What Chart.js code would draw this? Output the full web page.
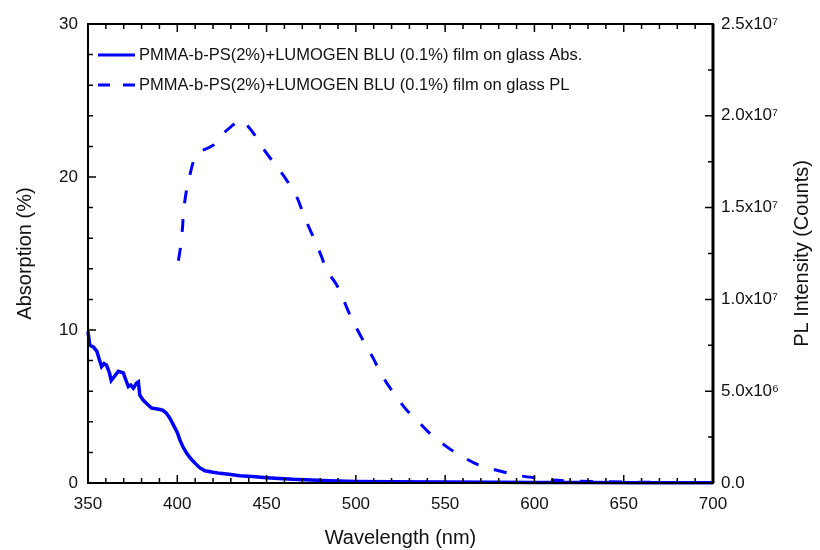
<!DOCTYPE html>
<html>
<head>
<meta charset="utf-8">
<script src="https://cdn.jsdelivr.net/npm/chart.js@4.4.1/dist/chart.umd.min.js"></script>
<style>
html, body { margin: 0; padding: 0; background: #fff; }
#wrap { width: 820px; height: 550px; }
</style>
</head>
<body>
<div id="wrap"><canvas id="myChart" width="820" height="550"></canvas></div>
<script>
// absorption spectrum (%)
const absWl = [350, 351, 353, 355, 356, 357.6, 359, 360.4, 362, 363, 365, 367, 369.8, 371, 372.6, 374, 375.4, 377, 378.2, 379,
  381, 382.8, 385.6, 388, 390.3, 392, 394, 396, 397.8, 400, 401.5, 403, 405.3, 407.5, 410, 412.5, 415.5, 420, 424, 430,
  435, 442, 450, 457, 465, 475, 485, 500, 520, 550, 580, 600, 630, 660, 700];
const absVal = [9.9, 9.0, 8.9, 8.6, 8.2, 7.6, 7.8, 7.7, 7.2, 6.7, 7.0, 7.3, 7.2, 6.8, 6.3, 6.4, 6.2, 6.5, 6.6, 5.75,
  5.4, 5.2, 4.9, 4.85, 4.8, 4.75, 4.55, 4.2, 3.8, 3.3, 2.8, 2.4, 1.94, 1.6, 1.29, 1.0, 0.8, 0.7, 0.63, 0.55,
  0.48, 0.42, 0.35, 0.3, 0.24, 0.2, 0.15, 0.1, 0.08, 0.06, 0.05, 0.04, 0.03, 0.02, 0.02];

// PL spectrum (counts)
const plWl = [400.6, 401.9, 403, 403.4, 404.9, 406.2, 409, 411.8, 416, 420.2, 424.9, 430, 435.1, 437, 439.8, 443, 446.3, 450,
  456.5, 461.2, 466.8, 469.7, 473.4, 477.1, 480.9, 483.6, 489.2, 493, 496.7, 500.4, 506, 509.7, 513.5, 518, 524.7, 528.4,
  535.9, 541.5, 550.8, 556.4, 566.7, 575, 584.4, 592.8, 603, 610, 625, 650, 675, 700];
const plVal = [12.1e6, 12.9e6, 14.0e6, 14.7e6, 15.8e6, 16.4e6, 17.5e6, 18.0e6, 18.2e6, 18.4e6, 18.95e6, 19.4e6, 19.77e6, 19.7e6,
  19.4e6, 19.0e6, 18.5e6, 17.96e6, 17.14e6, 16.5e6, 15.6e6, 14.9e6, 14.0e6, 13.2e6, 12.3e6, 11.6e6, 10.8e6, 10.0e6, 9.15e6,
  8.43e6, 7.42e6, 6.8e6, 6.06e6, 5.34e6, 4.43e6, 3.98e6, 3.25e6, 2.7e6, 1.98e6, 1.62e6, 1.07e6, 0.8e6, 0.56e6, 0.38e6,
  0.25e6, 0.16e6, 0.1e6, 0.05e6, 0.03e6, 0.02e6];

const labels = [
  'PMMA-b-PS(2%)+LUMOGEN BLU (0.1%) film on glass Abs.',
  'PMMA-b-PS(2%)+LUMOGEN BLU (0.1%) film on glass PL'
];
const rightTickLabels = ['0.0', '5.0x10\u2076', '1.0x10\u2077', '1.5x10\u2077', '2.0x10\u2077', '2.5x10\u2077'];

const FONT = "'Liberation Sans', Arial, sans-serif";
const BLUE = '#0000ff';

// inward ticks + box frame
const frameTicks = {
  id: 'frameTicks',
  afterDatasetsDraw(chart) {
    const {ctx, chartArea: a, scales} = chart;
    ctx.save();
    ctx.strokeStyle = '#000';
    ctx.lineWidth = 1.5;
    ctx.beginPath();
    for (let v = 350; v <= 700; v += 10) {
      const x = scales.x.getPixelForValue(v);
      const len = v % 50 === 0 ? 8 : 5;
      ctx.moveTo(x, a.bottom); ctx.lineTo(x, a.bottom - len);
      ctx.moveTo(x, a.top); ctx.lineTo(x, a.top + len);
    }
    for (let v = 0; v <= 30; v += 2) {
      const y = scales.y.getPixelForValue(v);
      const len = v % 10 === 0 ? 8 : 5;
      ctx.moveTo(a.left, y); ctx.lineTo(a.left + len, y);
    }
    for (let v = 0; v <= 2.5e7; v += 2.5e6) {
      const y = scales.y2.getPixelForValue(v);
      const len = v % 5e6 === 0 ? 8 : 5;
      ctx.moveTo(a.right, y); ctx.lineTo(a.right - len, y);
    }
    ctx.stroke();
    ctx.lineWidth = 2;
    ctx.strokeRect(a.left, a.top, a.width, a.height);
    ctx.lineWidth = 3;
    ctx.beginPath();
    ctx.moveTo(a.right, a.top); ctx.lineTo(a.right, a.bottom);
    ctx.stroke();
    ctx.restore();
  },
  afterDraw(chart) {
    const {ctx, chartArea: a} = chart;
    ctx.save();
    // right axis title, reading bottom to top
    ctx.fillStyle = '#111';
    ctx.font = '20px ' + FONT;
    ctx.textAlign = 'center';
    ctx.textBaseline = 'middle';
    ctx.translate(802, (a.top + a.bottom) / 2);
    ctx.rotate(-Math.PI / 2);
    ctx.fillText('PL Intensity (Counts)', 0, 0);
    ctx.restore();

    // legend
    ctx.save();
    ctx.font = '16.5px ' + FONT;
    ctx.textBaseline = 'middle';
    ctx.textAlign = 'left';
    chart.data.datasets.forEach((ds, i) => {
      const y = a.top + 31 + i * 30;
      const x0 = a.left + 10;
      ctx.strokeStyle = ds.borderColor;
      ctx.lineWidth = 3;
      ctx.setLineDash(i === 0 ? [] : [12, 13]);
      ctx.beginPath();
      ctx.moveTo(x0, y); ctx.lineTo(x0 + 37, y);
      ctx.stroke();
      ctx.setLineDash([]);
      ctx.fillStyle = '#111';
      ctx.fillText(ds.label, x0 + 41, y);
    });
    ctx.restore();
  }
};

new Chart('myChart', {
  type: 'line',
  data: {
    datasets: [{
      label: labels[0],
      data: absWl.map((w, i) => ({x: w, y: absVal[i]})),
      borderColor: BLUE,
      borderWidth: 3.5,
      pointRadius: 0,
      tension: 0,
      clip: false,
      yAxisID: 'y'
    }, {
      label: labels[1],
      data: plWl.map((w, i) => ({x: w, y: plVal[i]})),
      borderColor: BLUE,
      borderWidth: 3,
      borderDash: [13, 16],
      pointRadius: 0,
      tension: 0.3,
      clip: false,
      yAxisID: 'y2'
    }]
  },
  options: {
    responsive: false,
    animation: false,
    layout: {padding: {top: 24, left: 0, right: 0, bottom: 0}},
    plugins: {legend: {display: false}, tooltip: {enabled: false}},
    scales: {
      x: {
        type: 'linear',
        min: 350, max: 700,
        afterFit: s => { s.height = 67; },
        grid: {display: false, drawTicks: false},
        border: {display: false},
        ticks: {stepSize: 50, padding: 11, color: '#111', font: {family: FONT, size: 17}},
        title: {display: true, text: 'Wavelength (nm)', color: '#111', font: {family: FONT, size: 20}, padding: {top: 0, bottom: 0}}
      },
      y: {
        position: 'left',
        min: 0, max: 30,
        afterFit: s => { s.width = 88; },
        grid: {display: false, drawTicks: false},
        border: {display: false},
        ticks: {stepSize: 10, padding: 10, color: '#111', font: {family: FONT, size: 17}},
        title: {display: true, text: 'Absorption (%)', color: '#111', font: {family: FONT, size: 20}, padding: {top: 13, bottom: 0}}
      },
      y2: {
        position: 'right',
        min: 0, max: 2.5e7,
        afterFit: s => { s.width = 107; },
        grid: {display: false, drawTicks: false},
        border: {display: false},
        ticks: {
          stepSize: 5e6, padding: 8, color: '#111', font: {family: FONT, size: 17},
          callback: (v, i) => rightTickLabels[i]
        }
      }
    }
  },
  plugins: [frameTicks]
});
</script>
</body>
</html>
